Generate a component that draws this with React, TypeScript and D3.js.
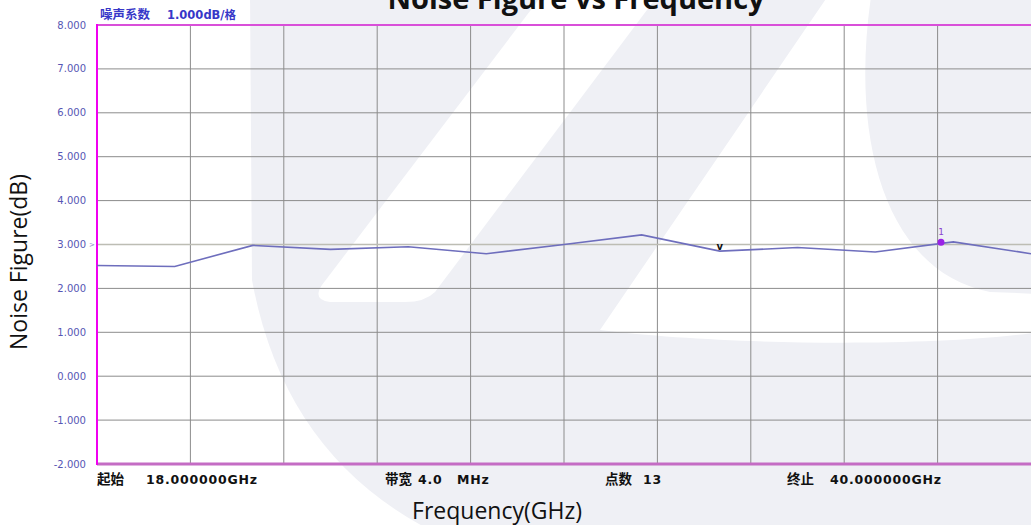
import React, { useEffect, useRef } from "react";
import * as d3 from "d3";

// frequency points (GHz), 13 points from 18 to 40
const freqs = [18, 19.83, 21.67, 23.5, 25.33, 27.17, 29, 30.83, 32.67, 34.5, 36.33, 38.17, 40];
// noise figure (dB)
const noiseFigure = [2.52, 2.5, 2.98, 2.89, 2.95, 2.79, 3.0, 3.22, 2.85, 2.93, 2.83, 3.06, 2.79];
const yTicks = [-2, -1, 0, 1, 2, 3, 4, 5, 6, 7, 8];
const xGrid = [18, 20.2, 22.4, 24.6, 26.8, 29, 31.2, 33.4, 35.6, 37.8, 40];
// marker 1 and the "v" marker
const marker1 = { freq: 37.88, value: 3.05 };
const markerV = { freq: 32.67, value: 2.85 };
// instrument footer
const footerNames = ["起始", "带宽", "点数", "终止"];
const footerValues = [["18.000000GHz"], ["4.0", "MHz"], ["13"], ["40.000000GHz"]];

export default function App() {
  const svgRef = useRef<SVGSVGElement>(null);

  useEffect(() => {
    const width = 1031;
    const height = 525;
    const left = 97;
    const right = 1031;
    const top = 25;
    const bottom = 464;

    const svg = d3.select(svgRef.current);
    svg.selectAll("*").remove();
    svg.attr("width", width).attr("height", height);

    // background + faint logo watermark
    svg.append("rect").attr("width", width).attr("height", height).attr("fill", "#ffffff");
    const wm = svg.append("g");
    wm.append("path")
      .attr("d", "M250,-10 L1040,-10 L1040,535 L440,535 Q285,460 252,280 Z")
      .attr("fill", "#eff0f5");
    wm.append("path")
      .attr("d", "M546,-10 L662,-10 L435,292 Q425,302 405,302 L330,302 Q312,300 322,285 Z")
      .attr("fill", "#ffffff");
    wm.append("path")
      .attr("d", "M832,-10 L872,-10 C850,130 880,270 990,292 L1040,294 L1040,332 C930,348 720,345 600,330 Z")
      .attr("fill", "#ffffff");

    const x = d3.scaleLinear().domain([18, 40]).range([left, right]);
    const y = d3.scaleLinear().domain([-2, 8]).range([bottom, top]);

    // grid
    svg.append("g")
      .selectAll("line")
      .data(xGrid.slice(1, -1))
      .join("line")
      .attr("x1", (d) => x(d))
      .attr("x2", (d) => x(d))
      .attr("y1", top)
      .attr("y2", bottom)
      .attr("stroke", "#8c8c8c")
      .attr("stroke-width", 1);

    svg.append("g")
      .selectAll("line")
      .data(yTicks.slice(1, -1))
      .join("line")
      .attr("x1", left)
      .attr("x2", right)
      .attr("y1", (d) => y(d))
      .attr("y2", (d) => y(d))
      .attr("stroke", (d) => (d === 3 ? "#bdbdb4" : "#8c8c8c"))
      .attr("stroke-width", (d) => (d === 3 ? 1.5 : 1));

    // borders
    svg.append("line").attr("x1", left).attr("x2", right).attr("y1", top).attr("y2", top)
      .attr("stroke", "#d94fd9").attr("stroke-width", 2);
    svg.append("line").attr("x1", left).attr("x2", right).attr("y1", bottom).attr("y2", bottom)
      .attr("stroke", "#c46cc4").attr("stroke-width", 3);
    svg.append("line").attr("x1", left).attr("x2", left).attr("y1", top - 1).attr("y2", bottom + 1)
      .attr("stroke", "#f000f0").attr("stroke-width", 2);

    // y tick labels
    svg.append("g")
      .selectAll("text")
      .data(yTicks)
      .join("text")
      .attr("x", 86)
      .attr("y", (d) => y(d))
      .attr("dy", "0.35em")
      .attr("text-anchor", "end")
      .attr("font-family", "DejaVu Sans")
      .attr("font-size", 10)
      .attr("fill", "#5656b4")
      .text((d) => d.toFixed(3));

    svg.append("text").attr("x", 89).attr("y", y(3)).attr("dy", "0.35em")
      .attr("font-family", "DejaVu Sans").attr("font-size", 7).attr("fill", "#8a8ac8").text(">");

    // header
    svg.append("text").attr("x", 100).attr("y", 19).attr("font-weight", "bold").attr("fill", "#3737c8")
      .attr("font-size", 12.5).attr("font-family", "Noto Sans CJK SC").text("噪声系数");
    const hdr = svg.append("text").attr("x", 167).attr("y", 19).attr("font-weight", "bold")
      .attr("fill", "#3737c8").attr("font-size", 11.5);
    hdr.append("tspan").attr("font-family", "DejaVu Sans").text("1.000dB/");
    hdr.append("tspan").attr("font-family", "Noto Sans CJK SC").text("格");

    // trace
    const line = d3.line<number>()
      .x((_, i) => x(freqs[i]))
      .y((d) => y(d));
    svg.append("path")
      .datum(noiseFigure)
      .attr("d", line)
      .attr("fill", "none")
      .attr("stroke", "#6e6ebd")
      .attr("stroke-width", 1.6);

    // markers
    svg.append("text")
      .attr("x", x(markerV.freq))
      .attr("y", y(markerV.value) - 1)
      .attr("text-anchor", "middle")
      .attr("font-family", "DejaVu Sans")
      .attr("font-weight", "bold")
      .attr("font-size", 10)
      .attr("fill", "#111")
      .text("v");

    svg.append("circle")
      .attr("cx", x(marker1.freq))
      .attr("cy", y(marker1.value))
      .attr("r", 3.5)
      .attr("fill", "#9a22e6");
    svg.append("text")
      .attr("x", x(marker1.freq))
      .attr("y", y(marker1.value) - 7)
      .attr("text-anchor", "middle")
      .attr("font-family", "DejaVu Sans")
      .attr("font-size", 9)
      .attr("fill", "#8a44d0")
      .text("1");

    // footer labels
    const nameX = [97, 385, 605, 787];
    const valueX = [[146], [418], [643], [830]];
    const unitX = 457;
    const foot = svg.append("g").attr("font-weight", "bold").attr("fill", "#111");
    footerNames.forEach((name, i) => {
      foot.append("text")
        .attr("x", nameX[i])
        .attr("y", 484)
        .attr("font-family", "Noto Sans CJK SC")
        .attr("font-size", 13.5)
        .text(name);
      footerValues[i].forEach((v, j) => {
        foot.append("text")
          .attr("x", j === 0 ? valueX[i][0] : unitX)
          .attr("y", 484)
          .attr("font-family", "DejaVu Sans")
          .attr("font-size", 12.5)
          .attr("letter-spacing", 0.8)
          .text(v);
      });
    });

    // title and axis labels
    svg.append("text")
      .attr("x", 576)
      .attr("y", 9)
      .attr("text-anchor", "middle")
      .attr("font-family", "Open Sans")
      .attr("font-weight", "bold")
      .attr("font-size", 29)
      .attr("fill", "#111")
      .text("Noise Figure vs Frequency");

    svg.append("text")
      .attr("transform", "translate(27,262) rotate(-90)")
      .attr("text-anchor", "middle")
      .attr("font-family", "Open Sans")
      .attr("font-size", 23)
      .attr("fill", "#111")
      .text("Noise Figure(dB)");

    svg.append("text")
      .attr("x", 497)
      .attr("y", 519)
      .attr("text-anchor", "middle")
      .attr("font-family", "Open Sans")
      .attr("font-size", 23)
      .attr("fill", "#111")
      .text("Frequency(GHz)");
  }, []);

  return <svg ref={svgRef} style={{ position: "absolute", left: 0, top: 0, display: "block" }} />;
}
